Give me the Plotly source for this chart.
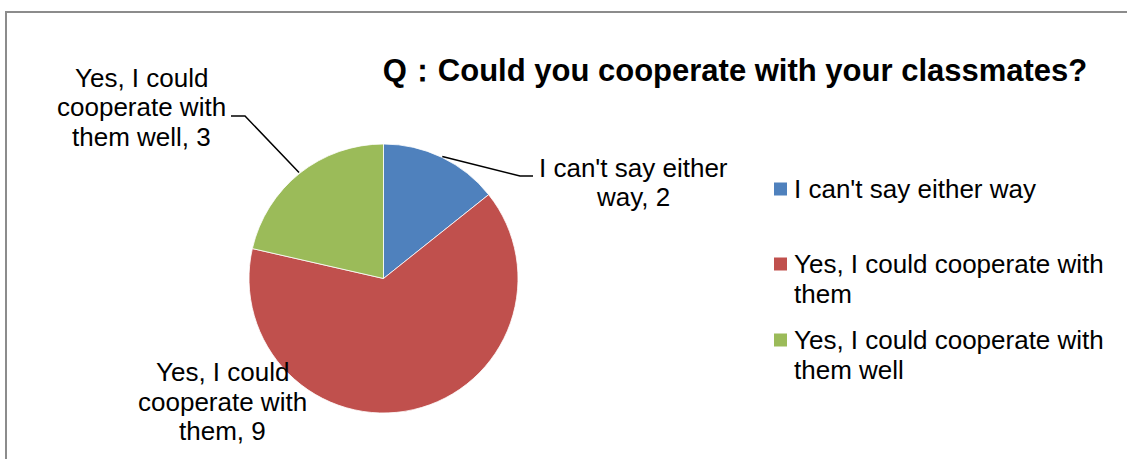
import math
import plotly.graph_objects as go

# ---- data ----
categories = ["I can't say either way",
              "Yes, I could cooperate with them",
              "Yes, I could cooperate with them well"]
values = [2, 9, 3]
colors = ["#4F81BD", "#C0504D", "#9BBB59"]
slice_labels = [["I can't say either", "way, 2"],
                ["Yes, I could", "cooperate with", "them, 9"],
                ["Yes, I could", "cooperate with", "them well, 3"]]
legend_labels = [["I can't say either way"],
                 ["Yes, I could cooperate with", "them"],
                 ["Yes, I could cooperate with", "them well"]]
title_text = "Q：Could you cooperate with your classmates?"

# ---- layout constants (pixels) ----
W, H = 1127, 459
FONT = "Liberation Sans, Arial, sans-serif"
FS = 26
LINE_H = 29.5
pie_left, pie_right, pie_top, pie_bottom = 248, 519, 144, 413
cx, cy = (pie_left + pie_right) / 2, (pie_top + pie_bottom) / 2
R = (pie_right - pie_left) / 2


def px(x):
    return x / W


def py(y):
    return 1 - y / H


fig = go.Figure()
fig.add_trace(go.Pie(
    labels=categories, values=values, sort=False, direction="clockwise",
    rotation=0, marker=dict(colors=colors, line=dict(color="white", width=0.8)),
    textinfo="none", hoverinfo="label+value", showlegend=False,
    domain=dict(x=[px(pie_left), px(pie_right)], y=[py(pie_bottom), py(pie_top)]),
))

annotations = []
shapes = []


def add_lines(lines, x, y_first, xanchor, align):
    for k, t in enumerate(lines):
        annotations.append(dict(
            x=px(x), y=py(y_first + k * LINE_H), xref="paper", yref="paper",
            text=t, showarrow=False, align=align, xanchor=xanchor,
            yanchor="middle", font=dict(family=FONT, size=FS, color="#000000")))


# label positions (center x, first-line y) and leader elbows (layout positions)
label_pos = [(633, 168), (222, 372), (141, 78)]
leader_elbow = [[(520, 176), (533, 176)], None, [(245, 116), (231, 116)]]

total = sum(values)
cum = 0
for i, v in enumerate(values):
    mid = (cum + v / 2) / total * 2 * math.pi
    cum += v
    ex, ey = cx + R * math.sin(mid), cy - R * math.cos(mid)
    lx, ly = label_pos[i]
    add_lines(slice_labels[i], lx, ly, "center", "center")
    if leader_elbow[i]:
        pts = [(ex, ey)] + leader_elbow[i]
        path = "M " + " L ".join(f"{px(a)},{py(b)}" for a, b in pts)
        shapes.append(dict(type="path", xref="paper", yref="paper", path=path,
                           line=dict(color="#000000", width=1.5)))

# manual legend
leg_sq_x0, leg_sq_x1 = 774, 787
leg_text_x = 792
leg_first_line = [189, 264, 340]
for i, lab in enumerate(legend_labels):
    y0 = leg_first_line[i]
    shapes.append(dict(type="rect", xref="paper", yref="paper",
                       x0=px(leg_sq_x0), x1=px(leg_sq_x1),
                       y0=py(y0 - 6.5), y1=py(y0 + 6.5),
                       fillcolor=colors[i], line=dict(width=0)))
    add_lines(lab, leg_text_x, y0, "left", "left")

# chart frame
shapes.append(dict(type="rect", xref="paper", yref="paper",
                   x0=px(6), x1=px(W + 10), y0=py(12), y1=py(H + 10),
                   line=dict(color="#8C8C8C", width=2), fillcolor="rgba(0,0,0,0)",
                   layer="below"))

fig.update_layout(
    width=W, height=H, margin=dict(l=0, r=0, t=0, b=0),
    paper_bgcolor="white", plot_bgcolor="white",
    title=dict(text="<b>" + title_text + "</b>", x=px(735), xanchor="center",
               y=py(70), yanchor="middle",
               font=dict(family=FONT, size=31, color="#000000")),
    annotations=annotations, shapes=shapes, showlegend=False,
)

fig.write_html("out.html")
